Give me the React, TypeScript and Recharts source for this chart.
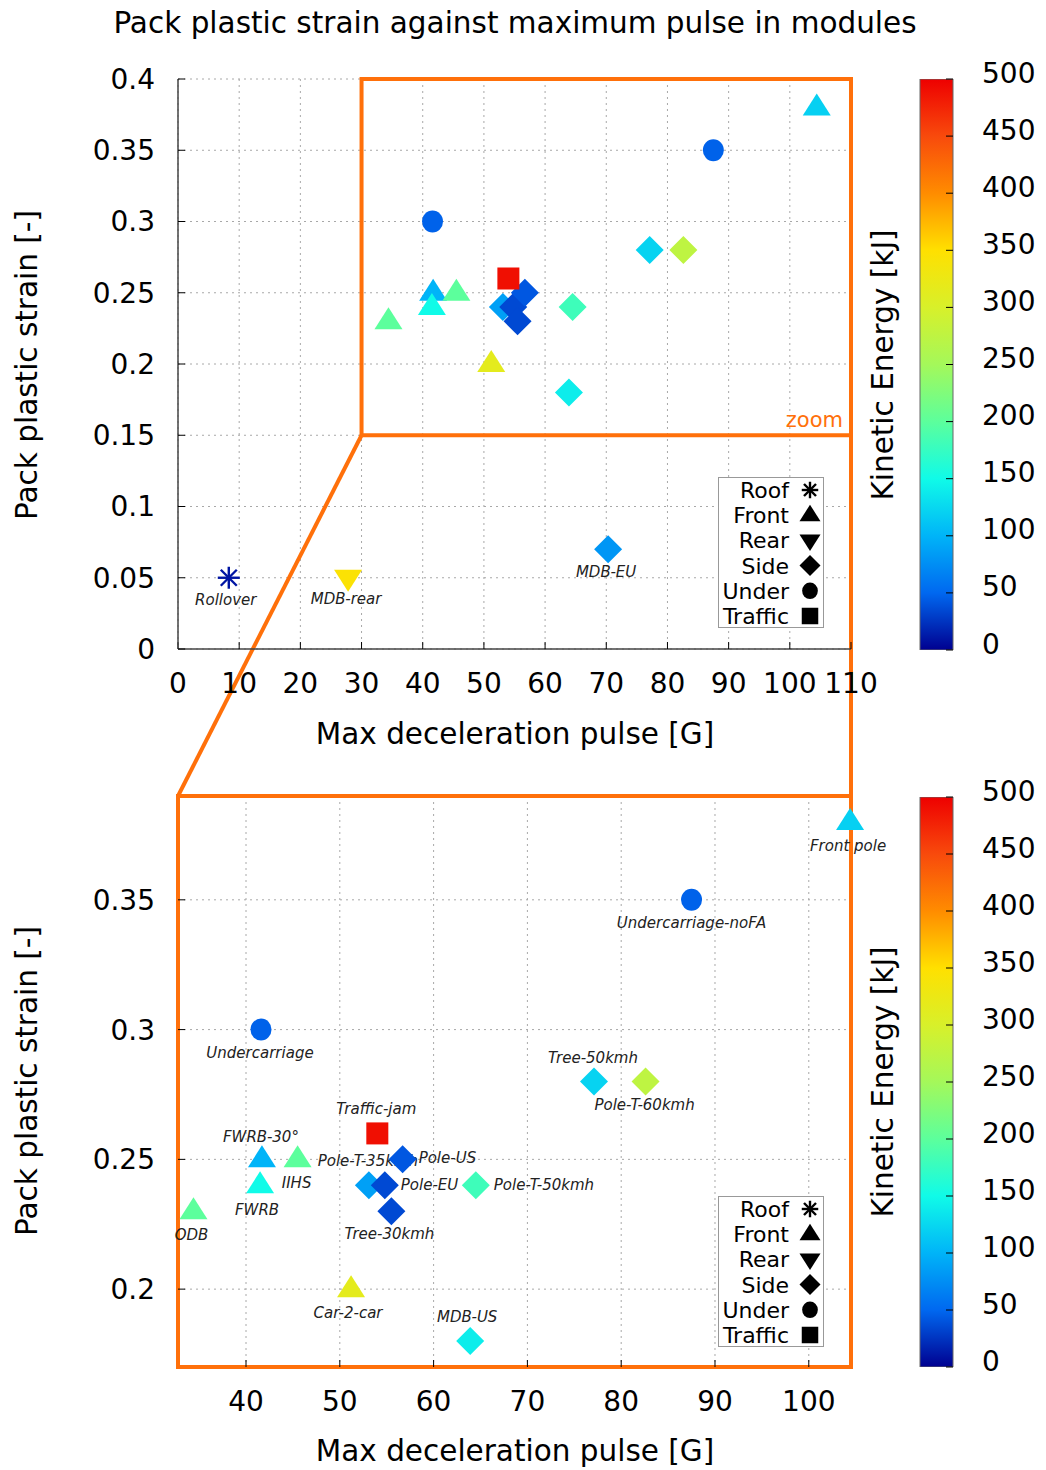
import React from "react";
import {
  ScatterChart,
  Scatter,
  XAxis,
  YAxis,
  CartesianGrid,
  ReferenceArea,
  ReferenceLine,
  Legend,
  BarChart,
  Bar,
} from "recharts";

const FONT = "DejaVu Sans, sans-serif";
const ORANGE = "#ff700a";
const FRAME = "#444";

// crash load cases
const caseNames = [
  "Rollover", "MDB-rear", "MDB-EU", "Front pole", "Undercarriage-noFA",
  "Undercarriage", "Tree-50kmh", "Pole-T-60kmh", "Traffic-jam", "FWRB-30°",
  "IIHS", "FWRB", "ODB", "Pole-T-35kmh", "Pole-EU",
  "Pole-US", "Tree-30kmh", "Pole-T-50kmh", "Car-2-car", "MDB-US",
];
const caseKinds = [
  "Roof", "Rear", "Side", "Front", "Under",
  "Under", "Side", "Side", "Traffic", "Front",
  "Front", "Front", "Front", "Side", "Side",
  "Side", "Side", "Side", "Front", "Side",
];
const maxPulse = [
  8.3, 27.8, 70.3, 104.4, 87.5,
  41.6, 77.1, 82.6, 54.0, 41.7,
  45.5, 41.5, 34.4, 53.1, 54.8,
  56.7, 55.5, 64.5, 51.2, 63.9,
];
const plasticStrain = [
  0.05, 0.05, 0.07, 0.38, 0.35,
  0.3, 0.28, 0.28, 0.26, 0.25,
  0.25, 0.24, 0.23, 0.24, 0.24,
  0.25, 0.23, 0.24, 0.2, 0.18,
];
const kineticEnergy = [
  10, 345, 80, 120, 47,
  47, 122, 275, 490, 100,
  200, 150, 200, 87, 35,
  42, 35, 180, 315, 140,
];

const kindOrder = ["Roof", "Front", "Rear", "Side", "Under", "Traffic"];

const fullXTicks = [0, 10, 20, 30, 40, 50, 60, 70, 80, 90, 100, 110];
const fullYTicks = [0, 0.05, 0.1, 0.15, 0.2, 0.25, 0.3, 0.35, 0.4];
const zoomXTicks = [40, 50, 60, 70, 80, 90, 100];
const zoomYTicks = [0.2, 0.25, 0.3, 0.35];
const keTicks = [0, 50, 100, 150, 200, 250, 300, 350, 400, 450, 500];

// jet-like palette, as fraction of 500 kJ
const jetStops: [number, string][] = [
  [0, "#000090"],
  [0.1, "#0068f0"],
  [0.2, "#00b4f8"],
  [0.3, "#10fbe8"],
  [0.4, "#5cff9c"],
  [0.5, "#a4f85a"],
  [0.6, "#d8f02a"],
  [0.7, "#ffe000"],
  [0.8, "#ff8c00"],
  [0.9, "#f84a0c"],
  [1, "#ee0000"],
];

function hexToRgb(h: string) {
  const n = parseInt(h.slice(1), 16);
  return [(n >> 16) & 255, (n >> 8) & 255, n & 255];
}

function jet(ke: number) {
  const t = Math.max(0, Math.min(1, ke / 500));
  for (let i = 1; i < jetStops.length; i++) {
    const [t1, c1] = jetStops[i];
    const [t0, c0] = jetStops[i - 1];
    if (t <= t1) {
      const f = (t - t0) / (t1 - t0);
      const a = hexToRgb(c0);
      const b = hexToRgb(c1);
      const m = a.map((v, k) => Math.round(v + (b[k] - v) * f));
      return `rgb(${m[0]},${m[1]},${m[2]})`;
    }
  }
  return jetStops[jetStops.length - 1][1];
}

// where each case name sits relative to its marker
const labelPlacement: Record<string, { dx: number; dy: number; anchor?: "start" | "middle" }> = {
  Rollover: { dx: -3, dy: 22 },
  "MDB-rear": { dx: -2, dy: 21 },
  "MDB-EU": { dx: -2, dy: 23 },
  "Front pole": { dx: -2, dy: 24 },
  "Undercarriage-noFA": { dx: 0, dy: 23 },
  Undercarriage: { dx: -1, dy: 23 },
  "Tree-50kmh": { dx: -1, dy: -24 },
  "Pole-T-60kmh": { dx: -1, dy: 23 },
  "Traffic-jam": { dx: -1, dy: -24 },
  "FWRB-30°": { dx: -1, dy: -22 },
  IIHS: { dx: -1, dy: 24 },
  FWRB: { dx: -3, dy: 25 },
  ODB: { dx: -2, dy: 24 },
  "Pole-T-35kmh": { dx: -1, dy: -24 },
  "Pole-EU": { dx: 16, dy: 0, anchor: "start" },
  "Pole-US": { dx: 16, dy: -1, anchor: "start" },
  "Tree-30kmh": { dx: -2, dy: 23 },
  "Pole-T-50kmh": { dx: 18, dy: 0, anchor: "start" },
  "Car-2-car": { dx: -3, dy: 24 },
  "MDB-US": { dx: -3, dy: -24 },
};

type Pt = { name: string; kind: string; x: number; y: number; ke: number; color: string };

const points: Pt[] = caseNames.map((name, i) => ({
  name,
  kind: caseKinds[i],
  x: maxPulse[i],
  y: plasticStrain[i],
  ke: kineticEnergy[i],
  color: jet(kineticEnergy[i]),
}));

function Marker({ kind, cx, cy, color, s = 1 }: { kind: string; cx: number; cy: number; color: string; s?: number }) {
  if (cx == null || cy == null) return null;
  switch (kind) {
    case "Roof": {
      const r = 11 * s;
      const d = 8 * s;
      return (
        <g stroke={color} strokeWidth={2.4}>
          <line x1={cx} y1={cy - r} x2={cx} y2={cy + r} />
          <line x1={cx - r} y1={cy} x2={cx + r} y2={cy} />
          <line x1={cx - d} y1={cy - d} x2={cx + d} y2={cy + d} />
          <line x1={cx - d} y1={cy + d} x2={cx + d} y2={cy - d} />
        </g>
      );
    }
    case "Front":
      return <polygon points={`${cx},${cy - 14 * s} ${cx - 14 * s},${cy + 8 * s} ${cx + 14 * s},${cy + 8 * s}`} fill={color} />;
    case "Rear":
      return <polygon points={`${cx - 14 * s},${cy - 8 * s} ${cx + 14 * s},${cy - 8 * s} ${cx},${cy + 14 * s}`} fill={color} />;
    case "Side":
      return <polygon points={`${cx},${cy - 14 * s} ${cx + 14 * s},${cy} ${cx},${cy + 14 * s} ${cx - 14 * s},${cy}`} fill={color} />;
    case "Under":
      return <ellipse cx={cx} cy={cy} rx={10.5 * s} ry={11 * s} fill={color} />;
    default:
      return <rect x={cx - 11 * s} y={cy - 11 * s} width={22 * s} height={22 * s} fill={color} />;
  }
}

function KindLegend() {
  return (
    <svg width={106} height={151} style={{ display: "block" }}>
      <rect x={0.5} y={0.5} width={105} height={150} fill="#fff" stroke="#999" />
      {kindOrder.map((k, i) => {
        const base = 21 + i * 25.2;
        return (
          <g key={k}>
            <text x={71} y={base} textAnchor="end" fontFamily={FONT} fontSize={22} fill="#000">
              {k}
            </text>
            <Marker kind={k} cx={92} cy={base - 8} color="#000" s={0.75} />
          </g>
        );
      })}
    </svg>
  );
}

const tickStyle = { fontSize: 28, fill: "#000", fontFamily: FONT };
const tickLine = { stroke: "#000", strokeWidth: 1 };

function CaseLabel(p: any) {
  const pl = labelPlacement[p.payload.name];
  if (!pl || p.cx == null) return null;
  return (
    <text
      x={p.cx + pl.dx}
      y={p.cy + pl.dy}
      textAnchor={pl.anchor ?? "middle"}
      dominantBaseline="central"
      fontFamily={FONT}
      fontStyle="italic"
      fontSize={15}
      fill="#222"
    >
      {p.payload.name}
    </text>
  );
}

// colorbar numbers sit a little above their tick, as in the original
function KeTick(p: any) {
  return (
    <text x={p.x} y={p.y - 6} textAnchor="start" dominantBaseline="central" {...tickStyle}>
      {p.payload.value}
    </text>
  );
}

// plot geometry of the page, used to join the zoom box to the lower plot
const TOP_PLOT_TOP = 79;
const TOP_PLOT_BOTTOM = 649;
const BOTTOM_PLOT_TOP = 796;
const LINK_Y = (-(BOTTOM_PLOT_TOP - TOP_PLOT_BOTTOM) * 0.4) / (TOP_PLOT_BOTTOM - TOP_PLOT_TOP);

function StrainPlot({ zoomed }: { zoomed: boolean }) {
  const xDomain = zoomed ? [32.75, 104.5] : [0, 110];
  const yDomain = zoomed ? [0.17, 0.39] : [0, 0.4];
  const xTicks = zoomed ? zoomXTicks : fullXTicks;
  const yTicks = zoomed ? zoomYTicks : fullYTicks;
  const shown = zoomed ? points.filter((p) => p.y >= 0.15) : points;
  const labelled = zoomed ? shown : points.filter((p) => p.y < 0.15);
  const height = zoomed ? 690 : 800;
  const margin = zoomed
    ? { top: 16, right: 49, bottom: 43, left: 0 }
    : { top: 79, right: 49, bottom: 91, left: 0 };
  const frame = zoomed ? false : { stroke: FRAME, strokeWidth: 1.5 };

  return (
    <div style={{ position: "absolute", left: 0, top: zoomed ? 780 : 0 }}>
      <ScatterChart width={900} height={height} margin={margin}>
        <CartesianGrid stroke="#a8a8a8" strokeDasharray="2 4" />
        <XAxis
          type="number"
          dataKey="x"
          domain={xDomain}
          ticks={xTicks}
          interval={0}
          height={60}
          tickSize={-7}
          tickMargin={31}
          tick={tickStyle}
          tickLine={tickLine}
          axisLine={frame}
        />
        <XAxis
          xAxisId="top"
          orientation="top"
          type="number"
          domain={xDomain}
          ticks={xTicks}
          interval={0}
          height={0}
          tickSize={-7}
          tick={false}
          tickLine={tickLine}
          axisLine={frame}
          allowDataOverflow
        />
        <YAxis
          type="number"
          dataKey="y"
          domain={yDomain}
          ticks={yTicks}
          interval={0}
          width={178}
          tickSize={-7}
          tickMargin={30}
          tick={tickStyle}
          tickLine={tickLine}
          axisLine={frame}
          allowDataOverflow={zoomed}
        />
        <YAxis
          yAxisId="right"
          orientation="right"
          type="number"
          domain={yDomain}
          ticks={yTicks}
          interval={0}
          width={0}
          tickSize={-7}
          tick={false}
          tickLine={tickLine}
          axisLine={frame}
          allowDataOverflow
        />
        <YAxis yAxisId="lab" type="number" dataKey="y" domain={yDomain} hide />
        <Scatter
          name="labels"
          yAxisId="lab"
          data={labelled}
          legendType="none"
          shape={CaseLabel}
          isAnimationActive={false}
        />
        {kindOrder.map((k) => (
          <Scatter
            key={k}
            name={k}
            data={shown.filter((p) => p.kind === k)}
            shape={(p: any) => <Marker kind={k} cx={p.cx} cy={p.cy} color={p.payload.color} />}
            isAnimationActive={false}
          />
        ))}
        {zoomed ? (
          <ReferenceArea
            x1={32.75}
            x2={104.5}
            y1={0.17}
            y2={0.39}
            fill="none"
            fillOpacity={0}
            stroke={ORANGE}
            strokeWidth={4}
            ifOverflow="visible"
          />
        ) : (
          <ReferenceArea
            x1={30}
            x2={110}
            y1={0.15}
            y2={0.4}
            fill="none"
            fillOpacity={0}
            stroke={ORANGE}
            strokeWidth={4}
            ifOverflow="visible"
            label={{
              value: "zoom",
              position: "insideBottomRight",
              offset: 8,
              fill: ORANGE,
              fontSize: 21,
              fontFamily: FONT,
            }}
          />
        )}
        {!zoomed && (
          <ReferenceLine
            segment={[{ x: 30, y: 0.15 }, { x: 0, y: LINK_Y }]}
            stroke={ORANGE}
            strokeWidth={4}
            ifOverflow="visible"
          />
        )}
        {!zoomed && (
          <ReferenceLine
            segment={[{ x: 110, y: 0.15 }, { x: 110, y: LINK_Y }]}
            stroke={ORANGE}
            strokeWidth={4}
            ifOverflow="visible"
          />
        )}
        <Legend
          layout="vertical"
          align="center"
          verticalAlign="middle"
          content={() => <KindLegend />}
          wrapperStyle={{ left: 718, top: zoomed ? 416 : 477, width: 106, height: 151 }}
        />
      </ScatterChart>
    </div>
  );
}

function ColorBar({ top, bottomMargin, id }: { top: number; bottomMargin: number; id: string }) {
  return (
    <div style={{ position: "absolute", left: 900, top }}>
      <BarChart
        width={146}
        height={700}
        data={[{ k: "KE", v: 500 }]}
        margin={{ top: 79, right: 0, bottom: bottomMargin, left: 20 }}
        barCategoryGap={0}
      >
        <defs>
          <linearGradient id={id} x1="0" y1="1" x2="0" y2="0">
            {jetStops.map(([o, c]) => (
              <stop key={o} offset={o} stopColor={c} />
            ))}
          </linearGradient>
        </defs>
        <XAxis dataKey="k" hide />
        <YAxis
          orientation="right"
          width={93}
          domain={[0, 500]}
          ticks={keTicks}
          interval={0}
          tickSize={-7}
          tickMargin={36}
          tick={KeTick}
          tickLine={tickLine}
          axisLine={false}
          allowDataOverflow
        />
        <YAxis
          yAxisId="l"
          orientation="left"
          width={0}
          domain={[0, 500]}
          ticks={keTicks}
          interval={0}
          tickSize={-7}
          tick={false}
          tickLine={tickLine}
          axisLine={false}
          allowDataOverflow
        />
        <Bar dataKey="v" fill={`url(#${id})`} stroke="#666" strokeWidth={1} isAnimationActive={false} />
      </BarChart>
    </div>
  );
}

export default function App() {
  const big = { fontFamily: FONT, fontSize: 29.5, fill: "#000" };
  return (
    <div style={{ position: "absolute", left: 0, top: 0, width: 1046, height: 1470, background: "#fff" }}>
      <StrainPlot zoomed={false} />
      <StrainPlot zoomed={true} />
      <ColorBar top={0} bottomMargin={50} id="jetTop" />
      <ColorBar top={718} bottomMargin={51} id="jetBottom" />
      <svg
        width={1046}
        height={1470}
        style={{ position: "absolute", left: 0, top: 0, pointerEvents: "none" }}
      >
        <text x={515} y={33} textAnchor="middle" {...big}>
          Pack plastic strain against maximum pulse in modules
        </text>
        <text x={515} y={744} textAnchor="middle" {...big}>
          Max deceleration pulse [G]
        </text>
        <text x={515} y={1461} textAnchor="middle" {...big}>
          Max deceleration pulse [G]
        </text>
        <text transform="translate(37,365) rotate(-90)" textAnchor="middle" {...big}>
          Pack plastic strain [-]
        </text>
        <text transform="translate(37,1081) rotate(-90)" textAnchor="middle" {...big}>
          Pack plastic strain [-]
        </text>
        <text transform="translate(893,365) rotate(-90)" textAnchor="middle" {...big}>
          Kinetic Energy [kJ]
        </text>
        <text transform="translate(893,1082) rotate(-90)" textAnchor="middle" {...big}>
          Kinetic Energy [kJ]
        </text>
      </svg>
    </div>
  );
}
